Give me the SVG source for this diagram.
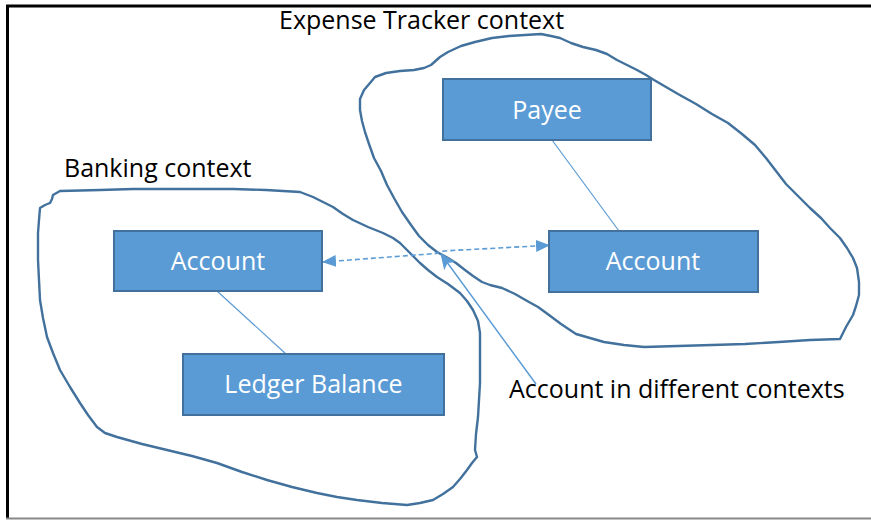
<svg xmlns="http://www.w3.org/2000/svg" width="871" height="520" viewBox="0 0 871 520">
<style>
  .blob { fill: none; stroke: #41719C; stroke-width: 2.4; stroke-linejoin: round; stroke-linecap: round; }
  .box { fill: #5B9BD5; stroke: #41719C; stroke-width: 2; }
  .boxtext { font-family: "Open Sans", "Liberation Sans", sans-serif; font-size: 25px; fill: #FFFFFF; text-anchor: middle; }
  .label { font-family: "Open Sans", "Liberation Sans", sans-serif; font-size: 25px; fill: #000000; }
  .link { stroke: #5B9BD5; stroke-width: 1.2; fill: none; }
  .dash { stroke: #5B9BD5; stroke-width: 1.6; fill: none; stroke-dasharray: 5 3; }
  .pointer { stroke: #5B9BD5; stroke-width: 1.5; fill: none; }
</style>
<defs>
  <marker id="tri" viewBox="0 0 14 12" refX="13" refY="6" markerWidth="14" markerHeight="12" markerUnits="userSpaceOnUse" orient="auto-start-reverse">
    <path d="M0,0 L14,6 L0,12 z" fill="#5B9BD5"/>
  </marker>
  <marker id="stealth" viewBox="0 0 16 14" refX="15" refY="7" markerWidth="16" markerHeight="14" markerUnits="userSpaceOnUse" orient="auto">
    <path d="M0,0 L16,7 L0,14 L4,7 z" fill="#5B9BD5"/>
  </marker>
</defs>
<rect x="0" y="0" width="871" height="520" fill="#FFFFFF"/>
<g id="frame">
  <line x1="6" y1="6" x2="871" y2="6" stroke="#000" stroke-width="3"/>
  <line x1="7.5" y1="5" x2="7.5" y2="518" stroke="#000" stroke-width="3"/>
  <line x1="6" y1="518.5" x2="871" y2="518.5" stroke="#888" stroke-width="2"/>
</g>
<g id="contexts">
  <path id="expense-context-outline" class="blob" d="M360,99 L364,90 L370,83 L375,77 L386,73 L400,71 L414,70 L424,68 L431,65 L440,57 L448,52 L461,46 L475,42 L492,38 L509,36 L525,35 L541,34 L551,36 L560,38 L571,43 L583,47 L596,50 L607,54 L617,60 L627,65 L637,70 L646,75 L654,80 L666,87 L678,94 L696,104 L712,114 L728,123 L742,134 L755,145 L766,158 L776,171 L786,184 L798,196 L810,208 L821,218 L830,228 L840,238 L847,248 L853,258 L857,268 L859,282 L859,295 L856,306 L853,315 L846,327 L840,339 L810,340 L779,342 L745,344 L712,345 L678,346 L644,347 L624,345 L604,342 L590,338 L576,334 L561,324 L549,315 L538,307 L529,302 L515,294 L502,288 L490,285 L482,282 L473,276 L465,270 L456,263 L448,258 L437,252 L428,245 L419,236 L411,225 L402,212 L394,198 L387,185 L381,171 L374,158 L369,144 L365,132 L362,121 L360,110 Z"/>
  <path id="banking-context-outline" class="blob" d="M53,195 L60,191 L100,190 L133,189 L167,189 L200,189 L233,189 L266,190 L300,192 L313,197 L323,202 L333,207 L343,214 L353,220 L368,227 L383,233 L393,238 L400,243 L410,253 L420,263 L428,270 L437,277 L448,284 L460,293 L467,301 L473,310 L478,321 L480,333 L480,358 L480,383 L479,400 L478,417 L476,434 L475,450 L477,457 L472,463 L467,470 L460,479 L453,487 L443,494 L433,500 L420,503 L407,505 L382,503 L357,500 L337,497 L317,493 L292,487 L267,480 L242,472 L217,463 L192,456 L167,450 L142,444 L117,437 L105,433 L97,427 L88,415 L80,403 L70,387 L60,370 L53,353 L47,337 L43,318 L40,300 L39,280 L38,260 L38,246 L38,233 L39,220 L40,208 L45,205 L50,203 L52,199 Z"/>
  <text class="label" x="279" y="29">Expense Tracker context</text>
  <text class="label" x="64" y="177">Banking context</text>
</g>
<g id="connectors">
  <line class="link" x1="552" y1="140" x2="619" y2="231"/>
  <line class="link" x1="217" y1="291" x2="286" y2="354"/>
  <path class="dash" d="M323,262 L436,253.5 Q441,251 448,250.7 L549,245.3" marker-start="url(#tri)" marker-end="url(#tri)"/>
  <line class="pointer" x1="536" y1="384" x2="441" y2="254" marker-end="url(#stealth)"/>
</g>
<g id="node-payee">
  <rect class="box" x="443" y="79" width="208" height="61"/>
  <text class="boxtext" x="547" y="119">Payee</text>
</g>
<g id="node-account-expense">
  <rect class="box" x="549" y="231" width="209" height="61"/>
  <text class="boxtext" x="653" y="270">Account</text>
</g>
<g id="node-account-banking">
  <rect class="box" x="114" y="231" width="208" height="60"/>
  <text class="boxtext" x="218" y="270">Account</text>
</g>
<g id="node-ledger-balance">
  <rect class="box" x="183" y="354" width="261" height="61"/>
  <text class="boxtext" x="313.5" y="393">Ledger Balance</text>
</g>
<g id="callout">
  <text class="label" x="509" y="398">Account in different contexts</text>
</g>
</svg>
